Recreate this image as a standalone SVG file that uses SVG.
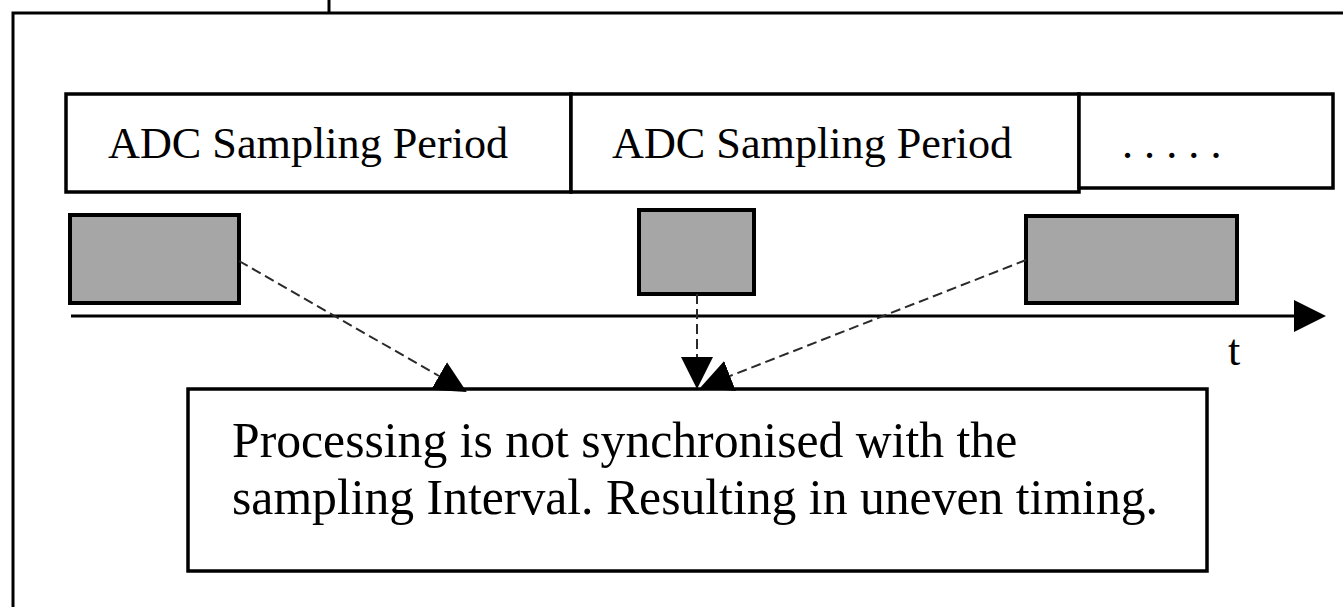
<svg xmlns="http://www.w3.org/2000/svg" width="1343" height="607" viewBox="0 0 1343 607">
<defs>
<style>
.box{fill:#fff;stroke:#000;stroke-width:3.5}
.gray{fill:#a6a6a6;stroke:#000;stroke-width:4}
.t{font-family:"Liberation Serif","Times New Roman",serif;fill:#000}
.lbl{font-size:44.2px}
.big{font-size:49.7px}
.dash{fill:none;stroke:#2a2a2a;stroke-width:2;stroke-dasharray:10 5}
</style>
<marker id="ah" markerUnits="userSpaceOnUse" markerWidth="32" markerHeight="32" refX="0" refY="15" orient="auto" viewBox="0 0 30 30">
<path d="M0,0 L30,15 L0,30 z" fill="#000"/>
</marker>
<marker id="axh" markerUnits="userSpaceOnUse" markerWidth="32" markerHeight="32" refX="0" refY="15" orient="auto" viewBox="0 0 30 30">
<path d="M0,0 L30,15 L0,30 z" fill="#000"/>
</marker>
</defs>
<rect width="1343" height="607" fill="#fff"/>
<g id="frame">
<rect x="13" y="13" width="1400" height="700" fill="none" stroke="#000" stroke-width="3"/>
<line x1="329" y1="0" x2="329" y2="13" stroke="#000" stroke-width="3"/>
</g>
<g id="period1">
<rect class="box" x="66" y="94" width="505" height="98"/>
<text class="t lbl" x="108" y="158">ADC Sampling Period</text>
</g>
<g id="period2">
<rect class="box" x="571" y="94" width="508" height="98"/>
<text class="t lbl" x="612" y="158">ADC Sampling Period</text>
</g>
<g id="period3">
<rect class="box" x="1079" y="94" width="254" height="94"/>
<text class="t lbl" x="1122" y="158">. . . . .</text>
</g>
<g id="proc1"><rect class="gray" x="70" y="215" width="169" height="88"/></g>
<g id="proc2"><rect class="gray" x="639" y="210" width="115" height="84"/></g>
<g id="proc3"><rect class="gray" x="1026" y="216" width="211" height="87"/></g>
<g id="axis">
<line x1="71" y1="316" x2="1294" y2="316" stroke="#000" stroke-width="3" marker-end="url(#axh)"/>
<text class="t lbl" x="1228" y="365">t</text>
</g>
<g id="note">
<rect class="box" x="188" y="389" width="1019" height="182"/>
<text class="t big" x="232" y="457">Processing is not synchronised with the</text>
<text class="t big" x="232" y="514">sampling Interval. Resulting in uneven timing.</text>
</g>
<g id="connectors">
<line class="dash" x1="239" y1="261" x2="439" y2="376" marker-end="url(#ah)"/>
<line class="dash" x1="697" y1="294" x2="697" y2="357" marker-end="url(#ah)"/>
<line class="dash" x1="1026" y1="260" x2="730" y2="376" marker-end="url(#ah)"/>
</g>
</svg>
